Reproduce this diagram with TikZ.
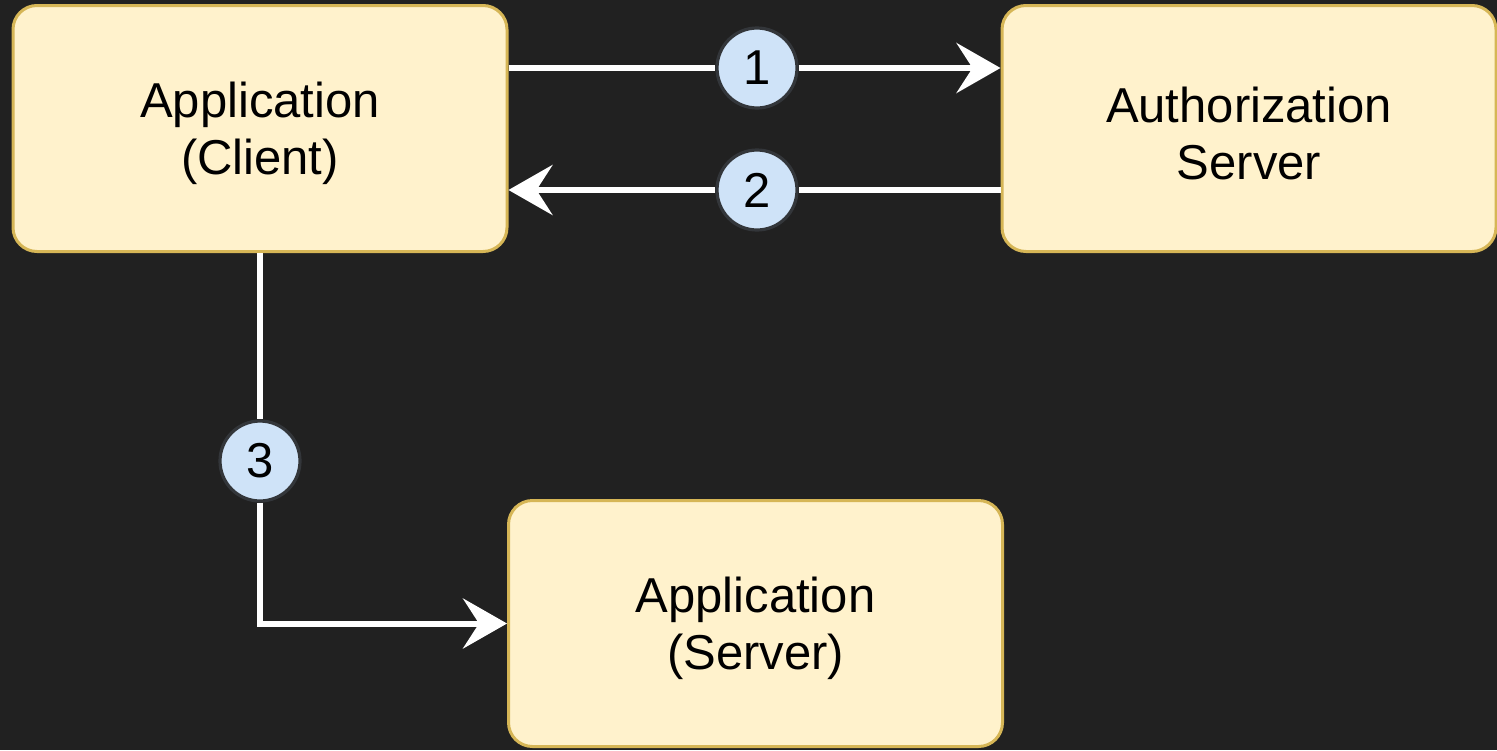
\documentclass[tikz,border=0pt]{standalone}
\usepackage{fontspec}
\setmainfont{Liberation Sans}
\usetikzlibrary{arrows.meta}
\definecolor{bg}{HTML}{212121}
\definecolor{boxfill}{HTML}{FFF2CC}
\definecolor{boxdraw}{HTML}{D6B656}
\definecolor{circfill}{HTML}{CFE3F8}
\definecolor{circdraw}{HTML}{33363A}
\newcommand{\toppad}{\rule{0pt}{22.5pt}}
\tikzset{
  box/.style={draw=boxdraw, fill=boxfill, line width=1.5pt, rounded corners=12pt,
    minimum width=247pt, minimum height=123pt, align=center, inner sep=0pt,
    font=\fontsize{24.5}{28.5}\selectfont, text=black},
  badge/.style={circle, draw=circdraw, fill=circfill, line width=1.6pt,
    minimum size=40pt, inner sep=0pt, font=\fontsize{24.5}{28}\selectfont, text=black},
  flow/.style={draw=white, line width=3pt, -{Stealth[length=22pt, width=25pt, inset=8pt]}},
  plain/.style={draw=white, line width=3pt}
}
\begin{document}
\begin{tikzpicture}[x=0.5pt, y=-0.5pt]
\fill[bg] (0,0) rectangle (1497,750);
\useasboundingbox (0,0) rectangle (1497,750);
\node[box] (client) at (260,128.5) {\toppad Application\\(Client)};
\node[box] (auth) at (1249,128.5) {\toppad Authorization\\Server};
\node[box] (server) at (755.5,623.5) {\toppad Application\\(Server)};
\node[badge] (b1) at (757,68) {1};
\node[badge] (b2) at (757,190) {2};
\node[badge] (b3) at (260,461) {3};
\coordinate (c1) at (client.east |- b1);
\coordinate (a1) at (auth.west |- b1);
\coordinate (c2) at (client.east |- b2);
\coordinate (a2) at (auth.west |- b2);
\coordinate (corner) at (client.south |- server.west);
\path[plain] (c1) -- (b1);
\path[flow] (b1) -- (a1);
\path[plain] (a2) -- (b2);
\path[flow] (b2) -- (c2);
\path[plain] (client.south) -- (b3);
\path[flow] (b3.south) -- (corner) -- (server.west);
\end{tikzpicture}
\end{document}
